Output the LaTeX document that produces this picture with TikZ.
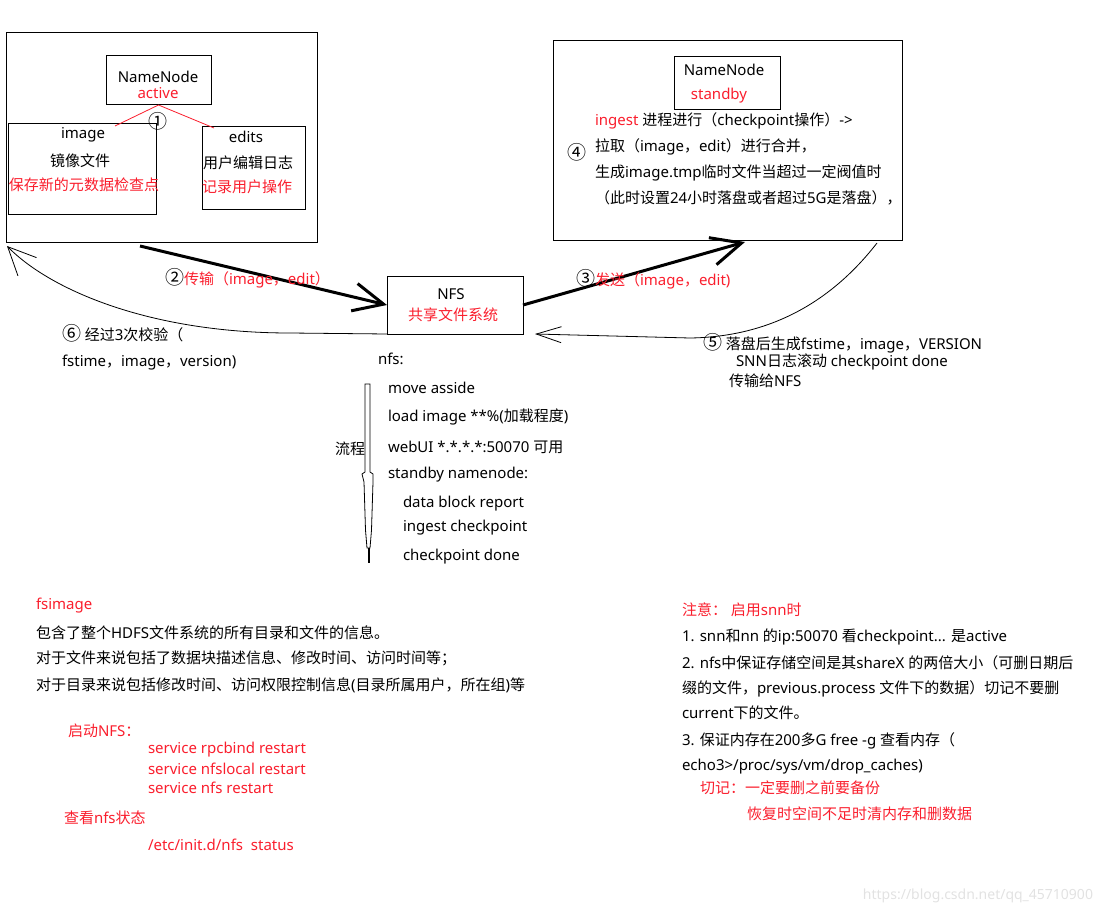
\documentclass[tikz,border=0pt]{standalone}
\usepackage{fontspec}
\setmainfont{Noto Sans}
\newfontfamily\cjkfont{Noto Sans CJK SC}
\newcommand\cd[1]{{\cjkfont\fontsize{19}{20}\selectfont #1}}
\usetikzlibrary{arrows.meta}
\XeTeXinterchartokenstate=1
\newXeTeXintercharclass\CJKcls
\makeatletter
\def\setcjkrange#1#2{\count@=#1\relax\loop\XeTeXcharclass\count@=\CJKcls\relax\ifnum\count@<#2\relax\advance\count@ 1\relax\repeat}
\makeatother
\setcjkrange{"3000}{"9FFF}
\setcjkrange{"FF00}{"FFEF}
\XeTeXinterchartoks 0 \CJKcls = {\begingroup\cjkfont}
\XeTeXinterchartoks 4095 \CJKcls = {\begingroup\cjkfont}
\XeTeXinterchartoks \CJKcls 0 = {\endgroup}
\XeTeXinterchartoks \CJKcls 4095 = {\endgroup}
\definecolor{rd}{RGB}{250,30,45}
\definecolor{wm}{RGB}{226,226,226}
\begin{document}
\begin{tikzpicture}[x=1pt,y=-1pt,
  every node/.style={inner sep=0pt,outer sep=0pt,font=\fontsize{15}{18}\selectfont},
  box/.style={draw,line width=1pt,anchor=north west},
  tl/.style={anchor=west},
  rtxt/.style={text=rd},
  thickarrow/.style={line width=3pt,-{Straight Barb[length=30pt,width=28pt,line width=3pt]}},
  thinarrow/.style={line width=0.8pt,-{Straight Barb[length=28pt,width=26pt,line width=0.8pt]}},
  redline/.style={draw=rd,line width=0.8pt}]
\useasboundingbox (0,0) rectangle (1102,915);

% boxes
\node[box,minimum width=311,minimum height=209] (leftbox) at (6,33) {};
\node[box,minimum width=105,minimum height=49] (nnA) at (106,56) {};
\node[box,minimum width=148,minimum height=90] (imgbox) at (8,124) {};
\node[box,minimum width=103,minimum height=82] (editbox) at (202,127) {};
\node[box,minimum width=349,minimum height=199] (rightbox) at (553,41) {};
\node[box,minimum width=106,minimum height=53] (nnB) at (674,57) {};
\node[box,minimum width=136,minimum height=58] (nfsbox) at (387,276) {};

% active namenode
\node (nnAt) at (158,77) {NameNode};
\node[rtxt] (nnAs) at (158,93) {active};
\node (c1) at (158,121) {\cd{①}};
\coordinate (imgtop) at (115,126);
\coordinate (edittop) at (214,128);
\draw[redline] (nnA.south) -- (imgtop);
\draw[redline] (nnA.south) -- (edittop);
\node (imgt1) at (83,135) {image};
\node (imgt2) at (80,161) {镜像文件};
\node[rtxt] (imgt3) at (84,185) {保存新的元数据检查点};
\node (edt1) at (246,137) {edits};
\node (edt2) at (248,163) {用户编辑日志};
\node[rtxt] (edt3) at (247,187) {记录用户操作};

% standby namenode
\node (nnBt) at (724,70) {NameNode};
\node[rtxt] (nnBs) at (719,96) {standby};
\node (c4) at (577,152) {\cd{④}};
\node[tl] (r1) at (595,121) {{\color{rd}ingest} 进程进行（checkpoint操作）->};
\node[tl] (r2) at (595,147) {拉取（image，edit）进行合并，};
\node[tl] (r3) at (595,173) {生成image.tmp临时文件当超过一定阀值时};
\node[tl] (r4) at (595,198) {（此时设置24小时落盘或者超过5G是落盘），};

% NFS
\node (nfst) at (451,294) {NFS};
\node[rtxt] (nfss) at (453,315) {共享文件系统};

% arrows
\coordinate (a2s) at (140,246);
\draw[thickarrow] (a2s) -- (nfsbox.west);
\node[tl] (l2) at (165,278) {\cd{②}{\color{rd}传输（image，edit）}};

\coordinate (a3e) at (745,242);
\draw[thickarrow] (nfsbox.east) -- (a3e);
\node[tl] (l3) at (576,279) {\cd{③}{\color{rd}发送（image，edit)}};

\coordinate (c5s) at (877,243);
\coordinate (c5e) at (535,334);
\draw[line width=0.8pt,-{Straight Barb[length=25pt,width=16pt,line width=0.8pt]}] (c5s) .. controls (825,310) and (760,337) .. (690,338) -- (c5e);
\node[tl] (l5a) at (703,343) {\cd{⑤} 落盘后生成fstime，image，VERSION};
\node[tl] (l5b) at (736,362) {SNN日志滚动 checkpoint done};
\node[tl] (l5c) at (729,381) {传输给NFS};

\coordinate (c6m) at (290,333);
\coordinate (c6e) at (7,246);
\draw[thinarrow] (nfsbox.south west) -- (c6m) .. controls (150,333) and (50,290) .. (c6e);
\node[tl] (l6a) at (62,333) {\cd{⑥} 经过3次校验（};
\node[tl] (l6b) at (62,363) {fstime，image，version)};

% nfs flow
\node[tl] (f0) at (378,359) {nfs:};
\node[tl] (f1) at (388,388) {move asside};
\node[tl] (f2) at (388,417) {load image **\%(加载程度)};
\node[tl] (f3) at (388,447) {webUI *.*.*.*:50070 可用};
\node[tl] (f4) at (388,475) {standby namenode:};
\node[tl] (f5) at (403,504) {data block report};
\node[tl] (f6) at (403,528) {ingest checkpoint};
\node[tl] (f7) at (403,557) {checkpoint done};
\node (flow) at (350,449) {流程};
\draw[line width=0.8pt,fill=white] (365,384) -- (370,384) -- (370,472) -- (373,474) -- (373,482) -- (371.5,530) -- (370,548) -- (367,548) -- (365.5,530) -- (364,482) -- (362,474) -- (365,472) -- cycle;
\draw[line width=2pt] (368.5,548) -- (368.5,563);

% bottom left
\node[tl,rtxt] (b0) at (36,606) {fsimage};
\node[tl] (b1) at (36,633) {包含了整个HDFS文件系统的所有目录和文件的信息。};
\node[tl] (b2) at (36,658) {对于文件来说包括了数据块描述信息、修改时间、访问时间等；};
\node[tl] (b3) at (36,685) {对于目录来说包括修改时间、访问权限控制信息(目录所属用户，所在组)等};
\node[tl,rtxt] (s0) at (68,731) {启动NFS：};
\node[tl,rtxt] (s1) at (148,750) {service rpcbind restart};
\node[tl,rtxt] (s2) at (148,769) {service nfslocal restart};
\node[tl,rtxt] (s3) at (148,788) {service nfs restart};
\node[tl,rtxt] (s4) at (64,818) {查看nfs状态};
\node[tl,rtxt] (s5) at (148,845) {/etc/init.d/nfs\ \ status};

% bottom right
\node[tl,rtxt] (n0) at (682,610) {注意： 启用snn时};
\node[tl] (n1) at (682,637) {1. snn和nn 的ip:50070 看checkpoint... 是active};
\node[tl] (n2) at (682,663) {2. nfs中保证存储空间是其shareX 的两倍大小（可删日期后};
\node[tl] (n3) at (682,689) {缀的文件，previous.process 文件下的数据）切记不要删};
\node[tl] (n4) at (682,713) {current下的文件。};
\node[tl] (n5) at (682,741) {3. 保证内存在200多G free -g 查看内存（};
\node[tl] (n6) at (682,767) {echo3>/proc/sys/vm/drop\_caches)};
\node[tl,rtxt] (n7) at (700,788) {切记：一定要删之前要备份};
\node[tl,rtxt] (n8) at (747,814) {恢复时空间不足时清内存和删数据};

\node[anchor=east,text=wm,font=\fontsize{14}{16}\selectfont] (wmk) at (1093,896) {https://blog.csdn.net/qq\_45710900};
\end{tikzpicture}
\end{document}
